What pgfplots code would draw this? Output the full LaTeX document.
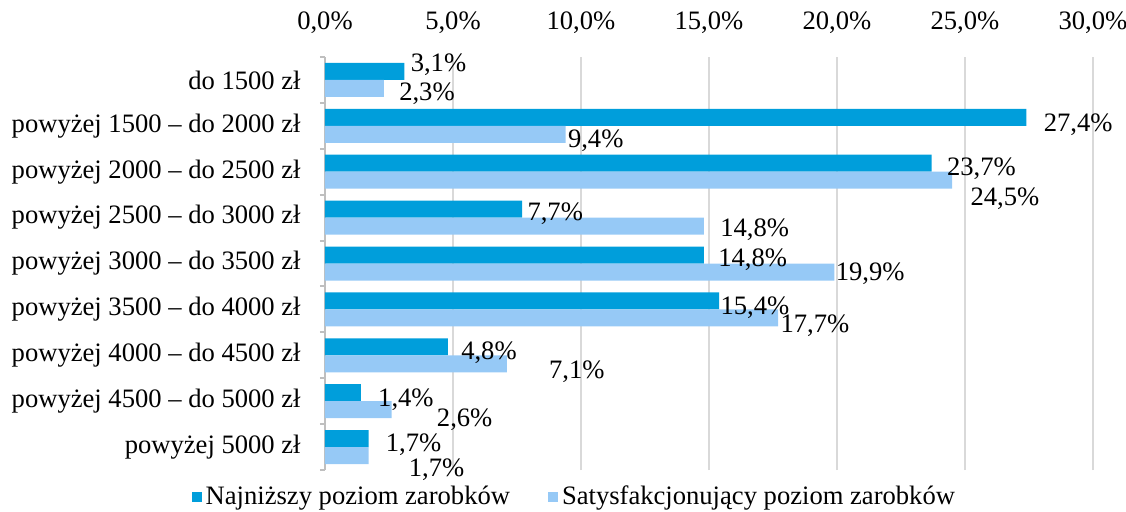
\documentclass[border=0pt]{standalone}
\usepackage{pgfplots}
\pgfplotsset{compat=1.18}
\usepackage{pgfplotstable}
\usepackage{fontspec}
\setmainfont{Liberation Serif}

\definecolor{darkbar}{RGB}{0,158,219}
\definecolor{lightbar}{RGB}{150,201,246}
\definecolor{axisgray}{RGB}{191,191,191}
\definecolor{gridgray}{RGB}{217,217,217}

% pos = category (0 = bottom), dx/dy = label offset in px of the reference
\pgfplotstableread{
pos val dx dy
8 3.1 6 -10
7 27.4 17 3.5
6 23.7 15 1.5
5 7.7 5 1.5
4 14.8 14 1.5
3 15.4 1 3.5
2 4.8 13 2.5
1 1.4 17 3.5
0 1.7 17 2.5
}\najnizszy
\pgfplotstableread{
pos val dx dy
8 2.3 15 1.5
7 9.4 2 2.5
6 24.5 18 14.5
5 14.8 16 0.5
4 19.9 1 -1.5
3 17.7 2 4.5
2 7.1 42 4.5
1 2.6 45 6.5
0 1.7 40 10.5
}\satysf

\pgfplotsset{labelshift/.style={
  visualization depends on={\thisrow{dx} \as \dx},
  visualization depends on={\thisrow{dy} \as \dy},
  nodes near coords={\pgfmathprintnumber[fixed,fixed zerofill,precision=1,use comma]{\pgfplotspointmeta}\%},
  every node near coord/.append style={anchor=west, inner sep=0pt,
    xshift={0.5pt*(\dx)}, yshift={-0.5pt*(\dy+3.5)}},
}}

\begin{document}
\begin{tikzpicture}
\begin{axis}[
  scale only axis,
  width=384pt, height=206.5pt,
  xbar, bar width=8.5pt,
  xmin=0, xmax=30, ymin=-0.5, ymax=8.5,
  font=\fontsize{13.3}{16}\selectfont,
  /pgf/number format/assume math mode=true,
  xtick={0,5,...,30},
  xticklabels={{0,0\%},{5,0\%},{10,0\%},{15,0\%},{20,0\%},{25,0\%},{30,0\%}},
  ytick={0,...,8},
  yticklabels={powyżej 5000 zł, powyżej 4500 – do 5000 zł, powyżej 4000 – do 4500 zł,
    powyżej 3500 – do 4000 zł, powyżej 3000 – do 3500 zł, powyżej 2500 – do 3000 zł,
    powyżej 2000 – do 2500 zł, powyżej 1500 – do 2000 zł, do 1500 zł},
  minor ytick={-0.5,0.5,...,8.5},
  major tick length=0pt, minor tick length=2.5pt, tick align=outside,
  minor y tick style={axisgray, line width=1pt},
  axis x line*=top, axis y line*=left,
  x axis line style={draw=none},
  y axis line style={axisgray, line width=1pt, -},
  xticklabel pos=upper, ytick pos=left,
  xticklabel style={anchor=base, inner sep=0pt, yshift=14pt},
  yticklabel style={anchor=east, inner sep=0pt, xshift=-12pt},
  xmajorgrids, major grid style={gridgray, line width=1pt},
  point meta=x,
  legend style={at={(0.326,-0.0654)}, anchor=center, draw=none, fill=none,
    legend columns=2, font=\fontsize{13.3}{16}\selectfont,
    /tikz/every even column/.append style={column sep=17pt}},
  legend image code/.code={\fill[#1] (0pt,-2.5pt) rectangle (5pt,2.5pt);},
]
\addplot[fill=darkbar, draw=none, bar shift=4.25pt, labelshift] table[x=val, y=pos] {\najnizszy};
\addlegendentry{Najniższy poziom zarobków}
\addplot[fill=lightbar, draw=none, bar shift=-4.25pt, labelshift] table[x=val, y=pos] {\satysf};
\addlegendentry{Satysfakcjonujący poziom zarobków}
\coordinate (sw) at (rel axis cs:0,0);
\end{axis}
\pgfresetboundingbox
\path[use as bounding box] ([shift={(-162.5pt,-20.5pt)}]sw) rectangle ([shift={(400.5pt,235pt)}]sw);
\end{tikzpicture}
\end{document}
